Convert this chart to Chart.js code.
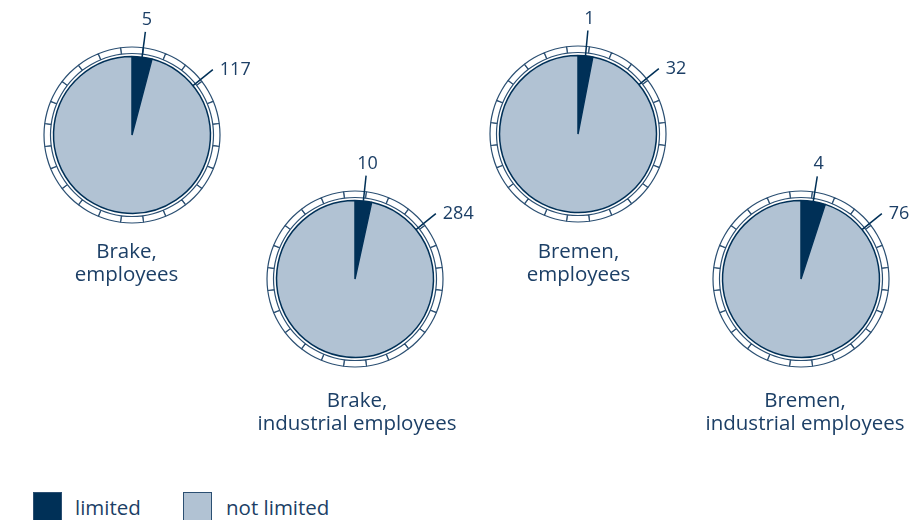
<!DOCTYPE html>
<html>
<head>
<meta charset="utf-8">
<script src="https://cdn.jsdelivr.net/npm/chart.js@4/dist/chart.umd.min.js"></script>
<style>
  body { margin: 0; background: #fff; }
  #page { position: relative; width: 919px; height: 520px; overflow: hidden; font-family: "Open Sans", sans-serif; color: #1c3f66; }
  .pie { position: absolute; }
  .caption { position: absolute; transform: translateX(-50%); text-align: center; font-size: 20.5px; line-height: 23px; white-space: nowrap; }
  .key { position: absolute; top: 492px; width: 29px; height: 30px; box-sizing: border-box; }
  .keytext { position: absolute; top: 496px; font-size: 20.5px; line-height: 23px; }
</style>
</head>
<body>
<div id="page"></div>
<script>
// data
var groups = ['Brake, employees', 'Brake, industrial employees', 'Bremen, employees', 'Bremen, industrial employees'];
var captions = [['Brake,', 'employees'], ['Brake,', 'industrial employees'], ['Bremen,', 'employees'], ['Bremen,', 'industrial employees']];
var limited = [5, 10, 1, 4];
var notLimited = [117, 284, 32, 76];
var legendLabels = ['limited', 'not limited'];
var ringSegments = 24;

// layout
var centers = [[131.5, 135], [354.5, 279], [577.5, 134], [801, 279]];
var captionPos = [[126.5, 239], [357, 388], [578.5, 239], [805, 388]];
var navy = '#003057';
var light = '#b1c2d3';
var line = '#2b4f72';
var textColor = '#1c3f66';
var size = 260;

// leader lines + numbers
var valueLabels = {
    id: 'valueLabels',
    afterDatasetsDraw: function (chart) {
        var ctx = chart.ctx;
        var meta = chart.getDatasetMeta(2);
        var data = chart.data.datasets[2].data;
        ctx.save();
        ctx.strokeStyle = navy;
        ctx.lineWidth = 1.5;
        ctx.fillStyle = textColor;
        ctx.font = '18px "Open Sans", sans-serif';
        meta.data.forEach(function (arc, i) {
            var p = arc.getProps(['x', 'y', 'startAngle', 'endAngle', 'outerRadius'], true);
            // small slice: middle of the slice, big slice: upper right
            var a = i === 0 ? (p.startAngle + p.endAngle) / 2 : (51 - 90) * Math.PI / 180;
            var r2 = 104;
            var x1 = p.x + Math.cos(a) * p.outerRadius, y1 = p.y + Math.sin(a) * p.outerRadius;
            var x2 = p.x + Math.cos(a) * r2, y2 = p.y + Math.sin(a) * r2;
            ctx.beginPath();
            ctx.moveTo(x1, y1);
            ctx.lineTo(x2, y2);
            ctx.stroke();
            if (i === 0) {
                ctx.textAlign = 'center';
                ctx.textBaseline = 'bottom';
                ctx.fillText(String(data[i]), x2 + 1.5, y2 - 3);
            } else {
                ctx.textAlign = 'left';
                ctx.textBaseline = 'middle';
                ctx.fillText(String(data[i]), x2 + 7, y2);
            }
        });
        ctx.restore();
    }
};

var page = document.getElementById('page');
var ring = [];
for (var k = 0; k < ringSegments; k++) ring.push(1);

groups.forEach(function (name, g) {
    var canv = document.createElement('canvas');
    canv.className = 'pie';
    canv.width = size;
    canv.height = size;
    canv.style.left = (centers[g][0] - size / 2) + 'px';
    canv.style.top = (centers[g][1] - size / 2) + 'px';
    page.appendChild(canv);

    new Chart(canv, {
        type: 'pie',
        data: {
            labels: legendLabels,
            datasets: [
                {
                    // outer segmented ring
                    data: ring,
                    weight: 6.5,
                    rotation: -360 / ringSegments / 2,
                    backgroundColor: '#ffffff',
                    borderColor: line,
                    borderWidth: 1.2
                },
                {
                    data: [1],
                    weight: 3,
                    backgroundColor: 'rgba(0,0,0,0)',
                    borderWidth: 0
                },
                {
                    label: name,
                    data: [limited[g], notLimited[g]],
                    weight: 78.5,
                    backgroundColor: [navy, light],
                    borderColor: navy,
                    borderWidth: 1.5
                }
            ]
        },
        options: {
            responsive: false,
            animation: false,
            events: [],
            radius: 88,
            layout: { padding: 0 },
            plugins: {
                legend: { display: false },
                tooltip: { enabled: false }
            }
        },
        plugins: [valueLabels]
    });

    var cap = document.createElement('div');
    cap.className = 'caption';
    cap.style.left = captionPos[g][0] + 'px';
    cap.style.top = captionPos[g][1] + 'px';
    cap.innerHTML = captions[g].join('<br>');
    page.appendChild(cap);
});

// legend
var keys = [[33, navy, legendLabels[0], 75], [183, light, legendLabels[1], 226]];
keys.forEach(function (k) {
    var box = document.createElement('div');
    box.className = 'key';
    box.style.left = k[0] + 'px';
    box.style.background = k[1];
    box.style.border = '1.5px solid ' + line;
    page.appendChild(box);
    var t = document.createElement('div');
    t.className = 'keytext';
    t.style.left = k[3] + 'px';
    t.textContent = k[2];
    page.appendChild(t);
});
</script>
</body>
</html>
